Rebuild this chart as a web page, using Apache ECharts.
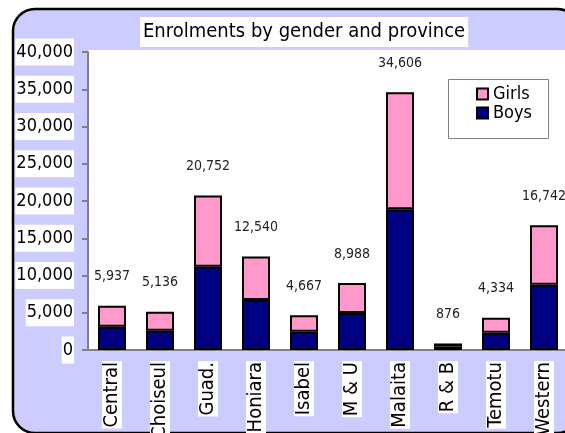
<!DOCTYPE html>
<html>
<head>
<meta charset="utf-8">
<script src="https://cdn.jsdelivr.net/npm/echarts@6/dist/echarts.min.js"></script>
<style>
html,body{margin:0;padding:0;background:#ffffff;}
#chart{width:565px;height:433px;}
</style>
</head>
<body>
<div id="chart"></div>
<script>
var categories = ['Central','Choiseul','Guad.','Honiara','Isabel','M & U','Malaita','R & B','Temotu','Western'];
var totals = [5937, 5136, 20752, 12540, 4667, 8988, 34606, 876, 4334, 16742];
var boys = [3130, 2590, 11180, 6710, 2460, 4970, 18880, 480, 2320, 8770];
var girls = [2807, 2546, 9572, 5830, 2207, 4018, 15726, 396, 2014, 7972];
var yTicks = [0, 5000, 10000, 15000, 20000, 25000, 30000, 35000, 40000];

var FONT = '"Liberation Sans Narrow", "Arial Narrow", "DejaVu Sans Condensed", "Roboto Condensed", sans-serif';
function fmt(v){ return String(v).replace(/\B(?=(\d{3})+(?!\d))/g, ','); }

var chart = echarts.init(document.getElementById('chart'), null, {renderer:'canvas'});
chart.setOption({
  animation: false,
  backgroundColor: '#ffffff',
  graphic: [
    { type:'rect', z:-10, shape:{x:13, y:9, width:566, height:424, r:22},
      style:{fill:'#CCCCFF', stroke:'#000000', lineWidth:2.5} },
    { type:'rect', z:-9, shape:{x:88, y:50, width:480, height:300},
      style:{fill:'#ffffff'} },
    { type:'rect', z:5, shape:{x:448.5, y:79.5, width:100, height:59},
      style:{fill:'#ffffff', stroke:'#808080', lineWidth:1} }
  ],
  title: {
    text: 'Enrolments by gender and province',
    left: 140, top: 17,
    padding: [5, 3, 5, 3],
    backgroundColor: '#ffffff',
    textStyle: { fontFamily: FONT, fontSize: 20, fontWeight: 'normal', color: '#000000' }
  },
  legend: {
    data: ['Girls', 'Boys'],
    orient: 'vertical',
    left: 471, top: 80,
    icon: 'rect',
    itemWidth: 11, itemHeight: 11, itemGap: 1,
    z: 10,
    textStyle: { fontFamily: FONT, fontSize: 18, color: '#000000' }
  },
  grid: { left: 88, top: 52, width: 480, height: 298, containLabel: false, outerBoundsMode: 'none' },
  xAxis: {
    type: 'category',
    data: categories,
    axisLine: { show: true, lineStyle: { color: '#808080', width: 2 } },
    axisTick: { show: false },
    axisLabel: {
      rotate: 90, margin: 11, interval: 0,
      fontFamily: FONT, fontSize: 20, color: '#000000',
      backgroundColor: '#ffffff', padding: [0, 1, 0, 1]
    }
  },
  yAxis: {
    type: 'value',
    min: 0, max: 40000, interval: 5000,
    splitLine: { show: false },
    axisLine: { show: true, lineStyle: { color: '#808080', width: 2 } },
    axisTick: { show: true, inside: false, length: 6, lineStyle: { color: '#808080', width: 2 } },
    axisLabel: {
      margin: 14,
      fontFamily: FONT, fontSize: 18, color: '#000000',
      backgroundColor: '#ffffff', padding: [5, 1, 4, 1],
      formatter: function(v){ return yTicks.indexOf(v) >= 0 ? fmt(v) : ''; }
    }
  },
  series: [
    {
      name: 'Boys', type: 'bar', stack: 'total', barWidth: 28,
      data: boys,
      itemStyle: { color: '#000080', borderColor: '#000000', borderWidth: 2 }
    },
    {
      name: 'Girls', type: 'bar', stack: 'total', barWidth: 28,
      data: girls,
      itemStyle: { color: '#FF99CC', borderColor: '#000000', borderWidth: 2 },
      label: {
        show: true, position: 'top', distance: 22,
        fontFamily: FONT, fontSize: 14, color: '#222222',
        formatter: function(p){ return fmt(totals[p.dataIndex]); }
      }
    }
  ]
});
</script>
</body>
</html>
